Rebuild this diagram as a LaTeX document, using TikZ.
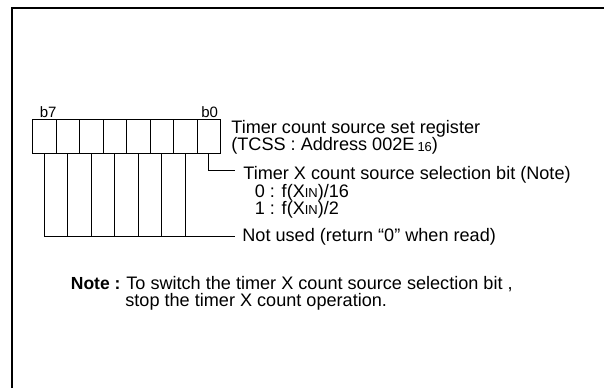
\documentclass[tikz,border=0pt]{standalone}
\usepackage{fontspec}
\setmainfont{Liberation Sans}
\usetikzlibrary{positioning}

\newcommand{\xin}{X{\fontsize{13}{12}\selectfont IN}}

\begin{document}
\begin{tikzpicture}[x=1pt,y=-1pt,line width=0.8pt,
	bitcell/.style={draw,minimum width=23.5pt,minimum height=34pt,inner sep=0pt,outer sep=0pt},
	txt/.style={anchor=base west,inner sep=0pt,font=\fontsize{18.1}{17}\selectfont},
	bitlbl/.style={anchor=base west,inner sep=0pt,font=\fontsize{15}{15}\selectfont},
	frame/.style={line width=2pt}]
	\useasboundingbox (0,0) rectangle (604,388);
	\draw[frame] (11.5,388) |- (604,8);

	% register cells, b7 at the left
	\node[bitcell] (cell7) at (44.25,136) {};
	\foreach \i/\prev in {6/7,5/6,4/5,3/4,2/3,1/2,0/1}
		\node[bitcell,right=23.5pt of cell\prev.center,anchor=center] (cell\i) {};

	\node[bitlbl] (lb7) at (39.5,117) {b7};
	\node[bitlbl] (lb0) at (201,117) {b0};

	\node[txt] (reg1) at (231,133) {Timer count source set register};
	\node[txt] (reg2) at (231,150) {(TCSS : Address 002E\,\raisebox{-1pt}{\fontsize{13}{12}\selectfont 16})};

	\node[txt] (sel) at (243,179.5) {Timer X count source selection bit (Note)};
	\node[txt] (sel0) at (254.5,197) {0 : f(\xin)/16};
	\node[txt] (sel1) at (254.5,214.5) {1 : f(\xin)/2};
	\node[txt] (unused) at (242,241.5) {Not used (return “0” when read)};

	\node[txt,font=\fontsize{17.5}{17}\selectfont\bfseries] (note) at (70.5,289.5) {Note :};
	\node[txt] (note1) at (126,289.5) {To switch the timer X count source selection bit ,};
	\node[txt] (note2) at (125,306.5) {stop the timer X count operation.};

	% connectors
	\coordinate (selend) at (235,170);
	\coordinate (unend) at (235,236.5);
	\draw (cell0.south) |- (selend);
	\foreach \i in {7,6,5,4,3,2,1}
		\draw (cell\i.south) -- (cell\i.south |- unend);
	\draw (cell7.south |- unend) -- (unend);
\end{tikzpicture}
\end{document}
